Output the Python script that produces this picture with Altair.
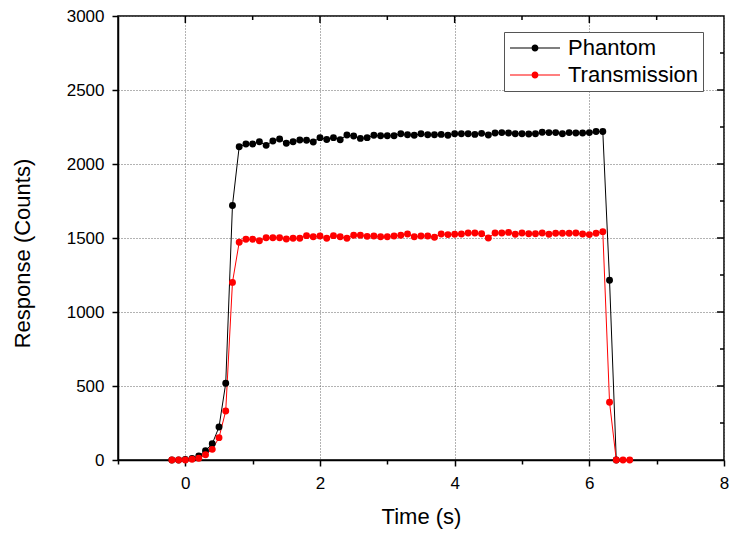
import altair as alt
import pandas as pd

# ---- data ----
time_s = [-0.2, -0.1, 0.0, 0.1, 0.2, 0.3, 0.4, 0.5, 0.6, 0.7,
          0.8, 0.9, 1.0, 1.1, 1.2, 1.3, 1.4, 1.5, 1.6, 1.7,
          1.8, 1.9, 2.0, 2.1, 2.2, 2.3, 2.4, 2.5, 2.6, 2.7,
          2.8, 2.9, 3.0, 3.1, 3.2, 3.3, 3.4, 3.5, 3.6, 3.7,
          3.8, 3.9, 4.0, 4.1, 4.2, 4.3, 4.4, 4.5, 4.6, 4.7,
          4.8, 4.9, 5.0, 5.1, 5.2, 5.3, 5.4, 5.5, 5.6, 5.7,
          5.8, 5.9, 6.0, 6.1, 6.2, 6.3, 6.4, 6.5, 6.6]

phantom = [0, 0, 3, 10, 27, 63, 110, 223, 518, 1720,
           2117, 2135, 2135, 2150, 2126, 2155, 2169, 2140, 2150, 2162,
           2160, 2149, 2178, 2166, 2178, 2164, 2196, 2189, 2173, 2178,
           2194, 2191, 2191, 2191, 2205, 2198, 2194, 2205, 2198, 2198,
           2200, 2194, 2205, 2205, 2205, 2200, 2207, 2196, 2210, 2212,
           2210, 2205, 2205, 2203, 2205, 2214, 2212, 2212, 2205, 2212,
           2210, 2210, 2212, 2219, 2219, 1214, 0]

transmission = [0, 0, 0, 5, 12, 36, 72, 151, 331, 1200,
                1471, 1491, 1491, 1482, 1502, 1502, 1502, 1493, 1498, 1498,
                1516, 1509, 1514, 1498, 1516, 1509, 1498, 1518, 1518, 1511,
                1514, 1509, 1509, 1514, 1518, 1527, 1509, 1514, 1514, 1505,
                1527, 1523, 1525, 1527, 1534, 1534, 1529, 1500, 1534, 1534,
                1538, 1525, 1534, 1529, 1529, 1534, 1525, 1532, 1532, 1532,
                1534, 1527, 1523, 1532, 1543, 390, 0, 0, 0]

series_names = ["Phantom", "Transmission"]
series_colors = ["#000000", "#ff0000"]

x_ticks = [-1, 0, 1, 2, 3, 4, 5, 6, 7, 8]
y_ticks = [0, 250, 500, 750, 1000, 1250, 1500, 1750, 2000, 2250, 2500, 2750, 3000]
top_major = [0, 2, 4, 6]
top_minor = [1, 3, 5, 7]
right_major = [500, 1000, 1500, 2000, 2500]
right_minor = [250, 750, 1250, 1750, 2250, 2750]

rows = []
for t, v in zip(time_s, phantom):
    rows.append({"time": t, "value": v, "series": "Phantom", "k": 0})
for t, v in zip(time_s, transmission):
    rows.append({"time": t, "value": v, "series": "Transmission", "k": 1})
df = pd.DataFrame(rows)

W, H = 606, 444
FONT = "Liberation Sans"

xscale = alt.Scale(domain=[-1, 8], nice=False, zero=False)
yscale = alt.Scale(domain=[0, 3000], nice=False)

x_axis = alt.Axis(
    values=x_ticks, format="d",
    labelExpr="datum.value % 2 === 0 ? datum.label : ''",
    tickSize={"condition": {"test": "datum.value % 2 !== 0", "value": 4}, "value": 6},
    gridOpacity={"condition": {"test": "datum.value % 2 === 0", "value": 1}, "value": 0},
    labelFlush=False, labelOverlap=False, labelPadding=9,
    title="Time (s)", titlePadding=15,
)
y_axis = alt.Axis(
    values=y_ticks, format="d",
    labelExpr="datum.value % 500 === 0 ? datum.label : ''",
    tickSize={"condition": {"test": "datum.value % 500 !== 0", "value": 4}, "value": 6},
    gridOpacity={"condition": {"test": "datum.value % 500 === 0", "value": 1}, "value": 0},
    labelFlush=False, labelOverlap=False, labelPadding=8,
    title="Response (Counts)", titleX=-84, titleY=237,
)

# symbol: a line with a dot, drawn in symbol units (1 unit = 10 px)
legend_path = ("M-1,-0.05H1.15V0.05H-1Z M1.85,-0.05H4V0.05H1.85Z "
               "M1.85,0A0.35,0.35,0,1,1,1.15,0A0.35,0.35,0,1,1,1.85,0Z")

color = alt.Color(
    "series:N",
    scale=alt.Scale(domain=series_names, range=series_colors),
    legend=alt.Legend(
        title=None, orient="none", legendX=386, legendY=16,
        symbolType=legend_path, symbolSize=400, symbolStrokeWidth=0,
        labelFont=FONT, labelFontSize=22, labelColor="black", labelOffset=37,
        padding=5, rowPadding=5, strokeColor="#555555", fillColor="white",
    ),
)

lines = alt.Chart(df).mark_line(strokeWidth=1).encode(
    x=alt.X("time:Q", scale=xscale, axis=x_axis),
    y=alt.Y("value:Q", scale=yscale, axis=y_axis),
    color=color,
    detail="series:N",
    order="time:Q",
)
points = alt.Chart(df).mark_circle(size=48, opacity=1).encode(
    x="time:Q", y="value:Q", color=color, order="k:Q",
)

def top_ticks(vals, length):
    d = pd.DataFrame({"time": vals})
    return alt.Chart(d).mark_rule(color="black", strokeWidth=1.5).encode(
        x="time:Q", y=alt.value(0), y2=alt.value(length))

def right_ticks(vals, length):
    d = pd.DataFrame({"value": vals})
    return alt.Chart(d).mark_rule(color="black", strokeWidth=1.5).encode(
        y="value:Q", x=alt.value(W), x2=alt.value(W - length))

chart = alt.layer(
    lines, points,
    top_ticks(top_major, 7), top_ticks(top_minor, 4),
    right_ticks(right_major, 7), right_ticks(right_minor, 4),
).properties(
    width=W, height=H,
    autosize=alt.AutoSizeParams(type="none"),
    padding={"left": 118, "top": 16, "right": 5, "bottom": 74},
).configure_view(
    stroke="black", strokeWidth=1.5,
).configure_axis(
    labelFont=FONT, labelFontSize=17, labelColor="black",
    titleFont=FONT, titleFontSize=22, titleFontWeight="normal", titleColor="black",
    domainColor="black", domainWidth=1.5, tickColor="black", tickWidth=1.5,
    gridColor="#666666", gridDash=[1, 2], gridWidth=1,
)

chart.save("out.html", embed_options={"renderer": "svg", "actions": False})
